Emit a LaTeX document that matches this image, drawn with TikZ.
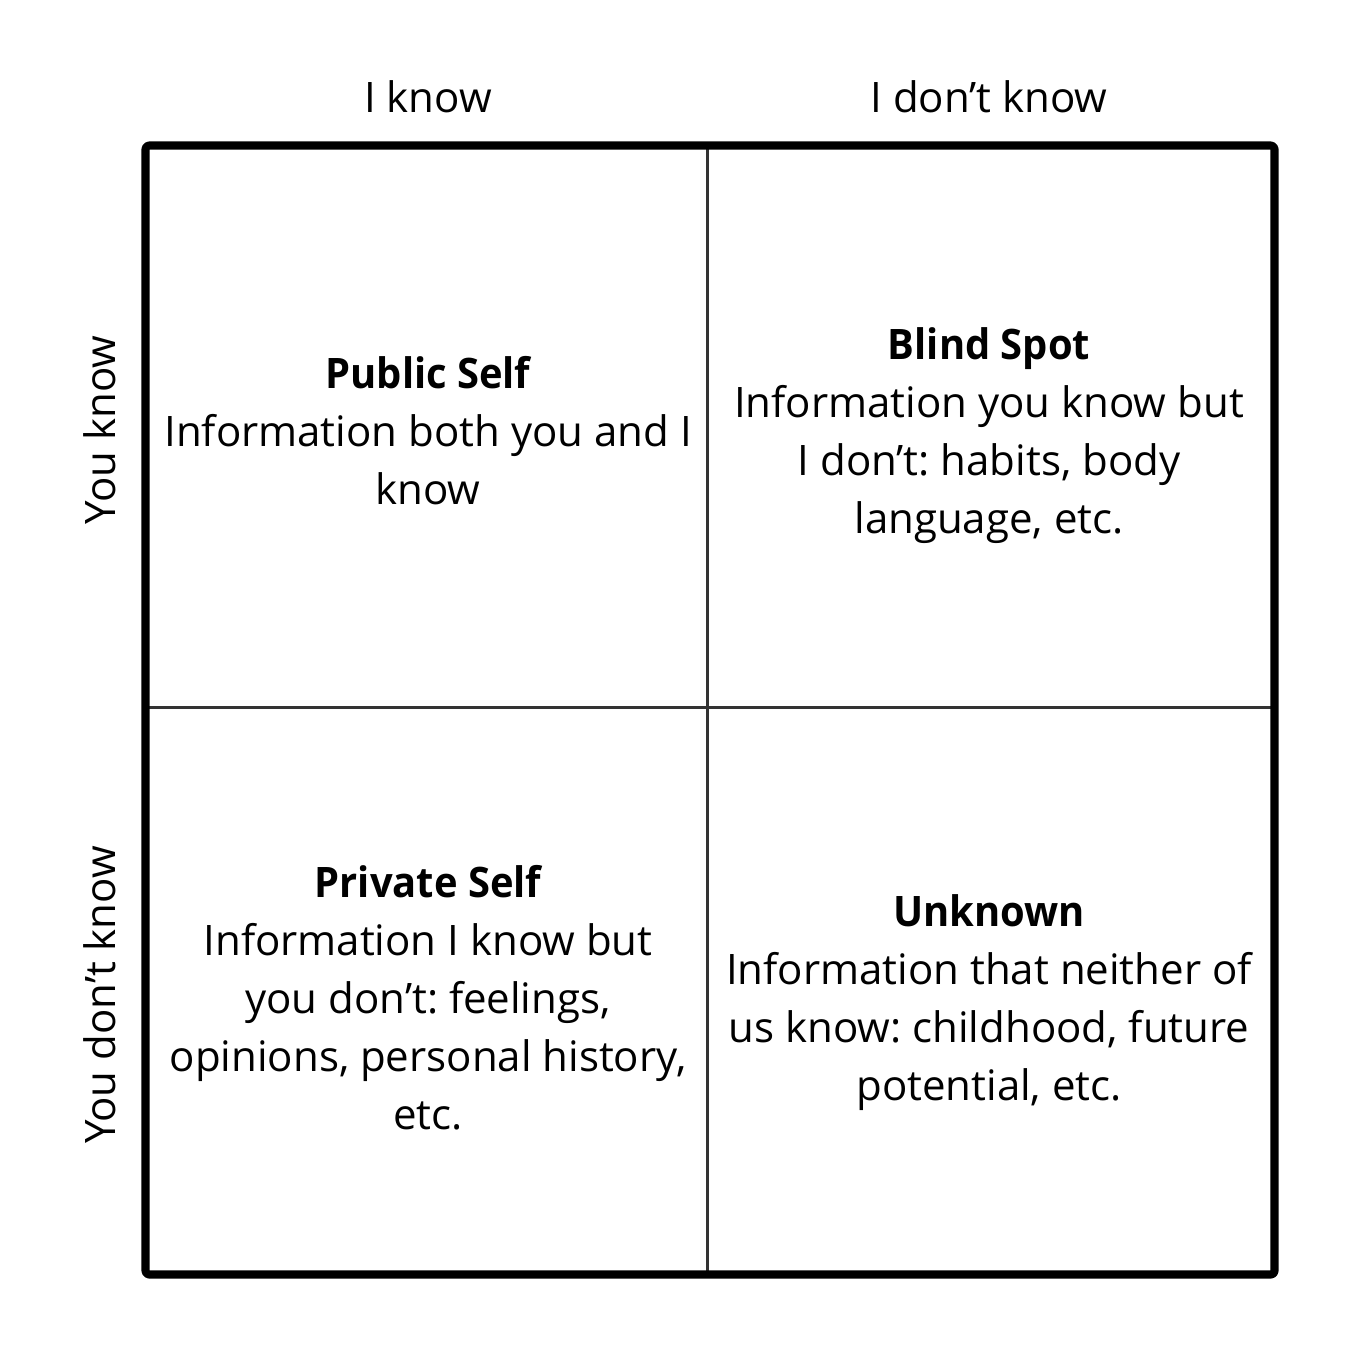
\documentclass[tikz,border=0pt]{standalone}
\usepackage{fontspec}
\setmainfont{Open Sans}
\newfontface\semib{Open Sans Bold}[FakeStretch=0.95]
\frenchspacing
\begin{document}
\begin{tikzpicture}[x=0.02cm,y=-0.02cm,
  lbl/.style={font=\fontsize{23.9pt}{33pt}\selectfont, align=center, inner sep=0pt},
  outer/.style={line width=4.6pt, rounded corners=2pt, line join=round},
  divider/.style={line width=2.1pt, draw=black!80}]
\useasboundingbox (0,0) rectangle (1349,1349);
\fill[white] (0,0) rectangle (1349,1349);
\coordinate (tl) at (145.5,145.5);
\coordinate (br) at (1274.5,1274.5);
\coordinate (mt) at (707.5,145.5);
\coordinate (mb) at (707.5,1274.5);
\coordinate (ml) at (145.5,707.5);
\coordinate (mr) at (1274.5,707.5);
\draw[divider] (mt) -- (mb);
\draw[divider] (ml) -- (mr);
\draw[outer] (tl) rectangle (br);
\node[lbl] (h1) at (428,97) {I know};
\node[lbl] (h2) at (989,97) {I don’t know};
\node[lbl, rotate=90] (v1) at (100,430) {You know};
\node[lbl, rotate=90] (v2) at (100,995) {You don’t know};
\node[lbl] (q1) at (428,431) {{\semib Public Self}\\Information both you and I\\know};
\node[lbl] (q2) at (989,436) {{\semib Blind Spot}\\Information you know but\\I don’t: habits, body\\language, etc.};
\node[lbl] (q3) at (428,998) {{\semib Private Self}\\Information I know but\\you don’t: feelings,\\opinions, personal history,\\etc.};
\node[lbl] (q4) at (989,1003) {{\semib Unknown}\\Information that neither of\\us know: childhood, future\\potential, etc.};
\end{tikzpicture}
\end{document}
